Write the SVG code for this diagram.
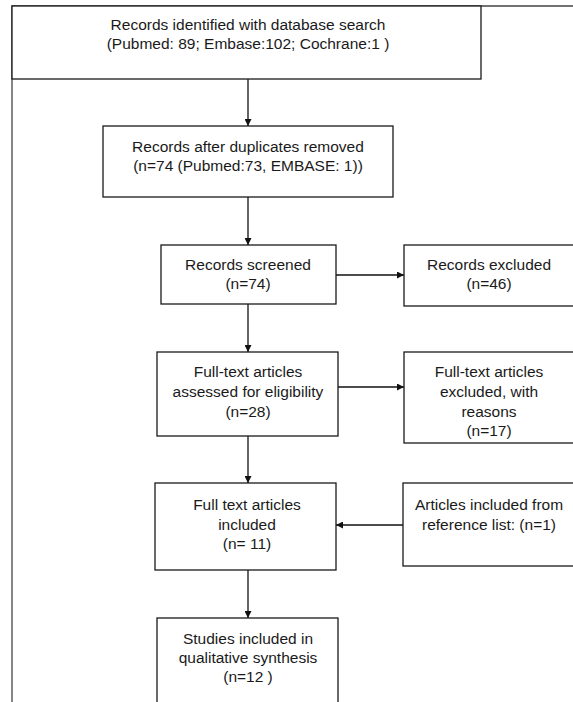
<svg xmlns="http://www.w3.org/2000/svg" width="573" height="702" viewBox="0 0 573 702">
<style>
  .box { fill: #ffffff; stroke: #1a1a1a; stroke-width: 1.3; }
  .frame { fill: none; stroke: #444; stroke-width: 1.3; }
  .t { font-family: "Liberation Sans", Arial, sans-serif; font-size: 15.5px; fill: #1a1a1a; text-anchor: middle; }
  .edge { fill: none; stroke: #111; stroke-width: 1.3; }
</style>
<defs>
  <marker id="arr" viewBox="0 0 10 10" refX="10" refY="5" markerWidth="8" markerHeight="7" markerUnits="userSpaceOnUse" orient="auto">
    <path d="M0,0 L10,5 L0,10 Z" fill="#111"/>
  </marker>
</defs>
<rect width="573" height="702" fill="#ffffff"/>
<g id="frame">
  <path class="frame" d="M12,702 L12,6 L573,6"/>
</g>
<g id="edges">
  <line class="edge" x1="248" y1="79" x2="248" y2="126" marker-end="url(#arr)"/>
  <line class="edge" x1="248" y1="197" x2="248" y2="245" marker-end="url(#arr)"/>
  <line class="edge" x1="248" y1="304" x2="248" y2="352" marker-end="url(#arr)"/>
  <line class="edge" x1="248" y1="436" x2="248" y2="483" marker-end="url(#arr)"/>
  <line class="edge" x1="248" y1="570" x2="248" y2="618" marker-end="url(#arr)"/>
  <line class="edge" x1="336" y1="275" x2="404" y2="275" marker-end="url(#arr)"/>
  <line class="edge" x1="338" y1="387" x2="404" y2="387" marker-end="url(#arr)"/>
  <line class="edge" x1="403" y1="525" x2="336" y2="525" marker-end="url(#arr)"/>
</g>
<g id="n1">
  <rect class="box" x="12" y="6" width="469" height="73"/>
  <text class="t" x="248" y="30">Records identified with database search</text>
  <text class="t" x="248" y="49">(Pubmed: 89; Embase:102; Cochrane:1 )</text>
</g>
<g id="n2">
  <rect class="box" x="103" y="126" width="290" height="71"/>
  <text class="t" x="248" y="152">Records after duplicates removed</text>
  <text class="t" x="248" y="171">(n=74 (Pubmed:73, EMBASE: 1))</text>
</g>
<g id="n3">
  <rect class="box" x="161" y="245" width="175" height="59"/>
  <text class="t" x="248" y="270">Records screened</text>
  <text class="t" x="248" y="289">(n=74)</text>
</g>
<g id="n4">
  <rect class="box" x="404" y="245" width="172" height="61"/>
  <text class="t" x="489" y="270">Records excluded</text>
  <text class="t" x="489" y="289">(n=46)</text>
</g>
<g id="n5">
  <rect class="box" x="157" y="352" width="181" height="84"/>
  <text class="t" x="248" y="377">Full-text articles</text>
  <text class="t" x="248" y="397">assessed for eligibility</text>
  <text class="t" x="248" y="417">(n=28)</text>
</g>
<g id="n6">
  <rect class="box" x="404" y="352" width="172" height="91"/>
  <text class="t" x="489" y="377">Full-text articles</text>
  <text class="t" x="489" y="397">excluded, with</text>
  <text class="t" x="489" y="417">reasons</text>
  <text class="t" x="489" y="436">(n=17)</text>
</g>
<g id="n7">
  <rect class="box" x="155" y="483" width="181" height="87"/>
  <text class="t" x="247" y="510">Full text articles</text>
  <text class="t" x="247" y="530">included</text>
  <text class="t" x="247" y="549">(n= 11)</text>
</g>
<g id="n8">
  <rect class="box" x="403" y="483" width="173" height="83"/>
  <text class="t" x="489" y="510">Articles included from</text>
  <text class="t" x="489" y="530">reference list: (n=1)</text>
</g>
<g id="n9">
  <rect class="box" x="157" y="618" width="181" height="90"/>
  <text class="t" x="248" y="644">Studies included in</text>
  <text class="t" x="248" y="663">qualitative synthesis</text>
  <text class="t" x="248" y="682">(n=12 )</text>
</g>
</svg>
